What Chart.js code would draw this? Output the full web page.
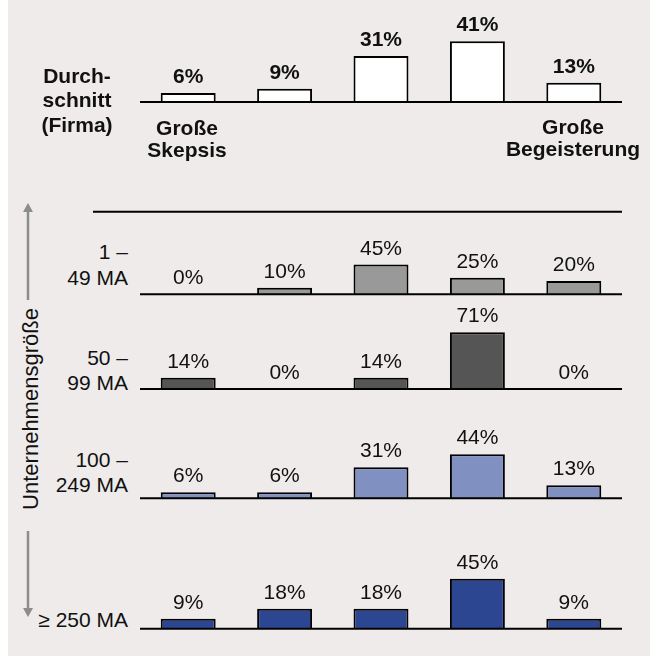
<!DOCTYPE html>
<html>
<head>
<meta charset="utf-8">
<script src="https://cdn.jsdelivr.net/npm/chart.js@4.4.0/dist/chart.umd.min.js"></script>
<style>
  body { margin: 0; background: #fff; font-family: "Liberation Sans", Arial, sans-serif; color: #111; }
  #panel { position: absolute; left: 8px; top: 0; width: 642px; height: 656px; background: #eeebea; }
  canvas { position: absolute; }
  .txt { position: absolute; font-size: 21px; white-space: pre; }
  .b { font-weight: bold; }
</style>
</head>
<body>
<div id="panel"></div>

<script>
const categories = ['1', '2', '3', '4', '5'];
const scaleEnds = ['Große\nSkepsis', 'Große\nBegeisterung'];
const avgLabel = 'Durch-\nschnitt\n(Firma)';
const rowLabels = ['1 –\n49 MA', '50 –\n99 MA', '100 –\n249 MA', '≥ 250 MA'];
const axisTitle = 'Unternehmensgröße';

const avgValues = [6, 9, 31, 41, 13];
const ma1to49 = [0, 10, 45, 25, 20];
const ma50to99 = [14, 0, 14, 71, 0];
const ma100to249 = [6, 6, 31, 44, 13];
const ma250plus = [9, 18, 18, 45, 9];

// layout: canvas top, baseline y, pixels per percent
const panels = [
  { data: avgValues, color: '#ffffff', top: 0, base: 102, ppp: 1.48, bold: true },
  { data: ma1to49, color: '#999999', top: 216, base: 294.3, ppp: 0.66 },
  { data: ma50to99, color: '#555555', top: 300, base: 389, ppp: 0.8 },
  { data: ma100to249, color: '#8090c0', top: 400, base: 498.3, ppp: 1.0 },
  { data: ma250plus, color: '#2c4692', top: 505, base: 628.7, ppp: 1.11 }
];

const font = '"Liberation Sans", Arial, sans-serif';

const labelPlugin = {
  id: 'labels',
  afterDatasetsDraw(chart, args, opts) {
    const { ctx, chartArea, scales } = chart;
    const y0 = scales.y.getPixelForValue(0);
    ctx.save();
    ctx.strokeStyle = '#000';
    ctx.lineWidth = 2;
    ctx.beginPath();
    ctx.moveTo(chartArea.left, y0);
    ctx.lineTo(chartArea.right, y0);
    ctx.stroke();
    ctx.fillStyle = '#111';
    ctx.font = (opts.bold ? 'bold ' : '') + '21px ' + font;
    ctx.textAlign = 'center';
    ctx.textBaseline = 'alphabetic';
    const meta = chart.getDatasetMeta(0);
    meta.data.forEach((bar, i) => {
      ctx.fillText(chart.data.datasets[0].data[i] + '%', bar.x, bar.y - 10);
    });
    ctx.restore();
  }
};

panels.forEach(p => {
  const c = document.createElement('canvas');
  const h = p.base - p.top + 3;
  c.width = 482;
  c.height = Math.round(h);
  c.style.left = '140px';
  c.style.top = p.top + 'px';
  document.body.appendChild(c);
  new Chart(c, {
    type: 'bar',
    data: {
      labels: categories,
      datasets: [{
        data: p.data,
        backgroundColor: p.color,
        borderColor: '#000',
        borderWidth: 2,
        borderSkipped: 'bottom',
        categoryPercentage: 1,
        barPercentage: 0.57
      }]
    },
    options: {
      responsive: false,
      animation: false,
      layout: { padding: { top: 0, bottom: Math.round(h) - (p.base - p.top), left: 0, right: 0 } },
      plugins: { legend: { display: false }, tooltip: { enabled: false }, labels: { bold: !!p.bold } },
      scales: {
        x: { display: false },
        y: { display: false, min: 0, max: (p.base - p.top) / p.ppp }
      }
    },
    plugins: [labelPlugin]
  });
});

function addText(str, opts) {
  const d = document.createElement('div');
  d.className = 'txt' + (opts.bold ? ' b' : '');
  d.textContent = str;
  d.style.lineHeight = opts.lh + 'px';
  d.style.top = opts.top + 'px';
  if (opts.align === 'right') {
    d.style.left = '0px';
    d.style.width = opts.x + 'px';
    d.style.textAlign = 'right';
  } else {
    d.style.left = (opts.x - 100) + 'px';
    d.style.width = '200px';
    d.style.textAlign = 'center';
  }
  document.body.appendChild(d);
}

addText(avgLabel, { bold: true, x: 77, top: 63.8, lh: 24.5 });
addText(scaleEnds[0], { bold: true, x: 187, top: 116.5, lh: 22 });
addText(scaleEnds[1], { bold: true, x: 573, top: 116, lh: 22 });
addText(rowLabels[0], { x: 128, top: 238.7, lh: 26.7, align: 'right' });
addText(rowLabels[1], { x: 128, top: 345.2, lh: 25, align: 'right' });
addText(rowLabels[2], { x: 128, top: 446.9, lh: 25, align: 'right' });
addText(rowLabels[3], { x: 128, top: 607, lh: 25, align: 'right' });

const t = document.createElement('div');
t.className = 'txt';
t.textContent = axisTitle;
t.style.fontSize = '22px';
t.style.lineHeight = '22px';
t.style.left = '31px';
t.style.top = '408.5px';
t.style.transform = 'translate(-50%, -50%) rotate(-90deg)';
document.body.appendChild(t);

// separator line and axis arrows
const svg = document.createElementNS('http://www.w3.org/2000/svg', 'svg');
svg.setAttribute('width', 657);
svg.setAttribute('height', 656);
svg.style.position = 'absolute';
svg.style.left = '0';
svg.style.top = '0';
svg.innerHTML =
  '<line x1="93" y1="211.7" x2="622" y2="211.7" stroke="#000" stroke-width="2"/>' +
  '<line x1="28" y1="300" x2="28" y2="210" stroke="#8c8c8c" stroke-width="2.5"/>' +
  '<polygon points="28,203 23,212 33,212" fill="#8c8c8c"/>' +
  '<line x1="28" y1="531" x2="28" y2="610" stroke="#8c8c8c" stroke-width="2.5"/>' +
  '<polygon points="28,617 23,608 33,608" fill="#8c8c8c"/>';
document.body.appendChild(svg);
</script>
</body>
</html>
